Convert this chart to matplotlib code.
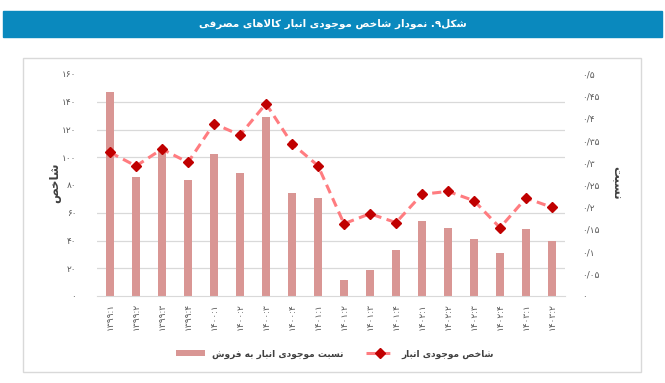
import numpy as np
import matplotlib
matplotlib.use("Agg")
import matplotlib.pyplot as plt
from matplotlib.patches import Rectangle

# ---- data ----
periods = ['۱۳۹۹:۱', '۱۳۹۹:۲', '۱۳۹۹:۳', '۱۳۹۹:۴',
           '۱۴۰۰:۱', '۱۴۰۰:۲', '۱۴۰۰:۳', '۱۴۰۰:۴',
           '۱۴۰۱:۱', '۱۴۰۱:۲', '۱۴۰۱:۳', '۱۴۰۱:۴',
           '۱۴۰۲:۱', '۱۴۰۲:۲', '۱۴۰۲:۳', '۱۴۰۲:۴',
           '۱۴۰۳:۱', '۱۴۰۳:۲']
stock_to_sales = [0.460, 0.267, 0.328, 0.261, 0.320, 0.278, 0.403, 0.232, 0.221,
                  0.036, 0.059, 0.104, 0.168, 0.153, 0.128, 0.097, 0.151, 0.125]
stock_index = [103.5, 93.7, 105.9, 96.3, 124.2, 116.0, 138.6, 109.8, 93.9,
               52.1, 59.3, 52.9, 73.3, 75.4, 68.7, 49.2, 70.6, 63.9]

index_ticks = [0, 20, 40, 60, 80, 100, 120, 140, 160]
index_labels = ['۰', '۲۰', '۴۰', '۶۰', '۸۰', '۱۰۰', '۱۲۰', '۱۴۰', '۱۶۰']
ratio_ticks = [0, 0.05, 0.1, 0.15, 0.2, 0.25, 0.3, 0.35, 0.4, 0.45, 0.5]
ratio_labels = ['۰', '۰/۰۵', '۰/۱', '۰/۱۵', '۰/۲', '۰/۲۵', '۰/۳', '۰/۳۵', '۰/۴', '۰/۴۵', '۰/۵']

title = 'شکل۹. نمودار شاخص موجودی انبار کالاهای مصرفی'
left_label = 'شاخص'
right_label = 'نسبت'
bar_name = 'نسبت موجودی انبار به فروش'
line_name = 'شاخص موجودی انبار'

# ---- minimal Persian shaping (matplotlib has no bidi / joining) ----
FORMS = {
    'ا': ('\uFE8D', '\uFE8E', None, None),
    'ب': ('\uFE8F', '\uFE90', '\uFE91', '\uFE92'),
    'ت': ('\uFE95', '\uFE96', '\uFE97', '\uFE98'),
    'ج': ('\uFE9D', '\uFE9E', '\uFE9F', '\uFEA0'),
    'خ': ('\uFEA5', '\uFEA6', '\uFEA7', '\uFEA8'),
    'د': ('\uFEA9', '\uFEAA', None, None),
    'ر': ('\uFEAD', '\uFEAE', None, None),
    'س': ('\uFEB1', '\uFEB2', '\uFEB3', '\uFEB4'),
    'ش': ('\uFEB5', '\uFEB6', '\uFEB7', '\uFEB8'),
    'ص': ('\uFEB9', '\uFEBA', '\uFEBB', '\uFEBC'),
    'ف': ('\uFED1', '\uFED2', '\uFED3', '\uFED4'),
    'ل': ('\uFEDD', '\uFEDE', '\uFEDF', '\uFEE0'),
    'م': ('\uFEE1', '\uFEE2', '\uFEE3', '\uFEE4'),
    'ن': ('\uFEE5', '\uFEE6', '\uFEE7', '\uFEE8'),
    'ه': ('\uFEE9', '\uFEEA', '\uFEEB', '\uFEEC'),
    'و': ('\uFEED', '\uFEEE', None, None),
    'ی': ('\uFBFC', '\uFBFD', '\uFBFE', '\uFBFF'),
    'ک': ('\uFB8E', '\uFB8F', '\uFB90', '\uFB91'),
    'LA': ('\uFEFB', '\uFEFC', None, None),
}
DIGITS = set('۰۱۲۳۴۵۶۷۸۹0123456789')


def fa(text):
    units, i = [], 0
    while i < len(text):
        if text[i] == 'ل' and text[i + 1:i + 2] == 'ا':
            units.append('LA')
            i += 2
        else:
            units.append(text[i])
            i += 1
    joins_next = lambda u: u in FORMS and FORMS[u][2] is not None
    shaped = []
    for k, u in enumerate(units):
        if u not in FORMS:
            shaped.append(u)
            continue
        p = k > 0 and joins_next(units[k - 1])
        n = joins_next(u) and k + 1 < len(units) and units[k + 1] in FORMS
        iso, fin, ini, med = FORMS[u]
        shaped.append(med if p and n else fin if p else ini if n else iso)
    # visual order: reverse, keeping digit runs left-to-right
    runs = []
    for ch in shaped:
        isd = ch in DIGITS
        if runs and runs[-1][0] == isd:
            runs[-1][1].append(ch)
        else:
            runs.append((isd, [ch]))
    out = ''
    for isd, chars in reversed(runs):
        out += ''.join(chars) if isd else ''.join(reversed(chars))
    return out


plt.rcParams['font.family'] = ['DejaVu Sans']
grey = '#595959'

fig = plt.figure(figsize=(6.65, 3.83), dpi=100)

# title banner and outer frame
fig.patches.append(Rectangle((3 / 665, 1 - 37 / 383), 659 / 665, 26 / 383,
                             transform=fig.transFigure, color='#0A89BE', zorder=0))
fig.text(0.5, 1 - 24 / 383, fa(title), color='white', fontsize=7.5,
         fontweight='bold', ha='center', va='center')
fig.patches.append(Rectangle((23 / 665, 1 - 372 / 383), 618 / 665, 314 / 383,
                             transform=fig.transFigure, fill=False,
                             edgecolor='#d9d9d9', lw=1, zorder=0))

ax = fig.add_axes([97 / 665, 1 - 296 / 383, 468 / 665, 222 / 383])
x = np.arange(len(periods))

# bars: stock-to-sales ratio (right axis)
bars = ax.bar(x, stock_to_sales, width=0.32, color='#D99694', zorder=2)
ax.set_ylim(0, 0.5)
ax.set_xlim(-0.5, len(periods) - 0.5)
ax.set_yticks(ratio_ticks)
ax.set_yticklabels(ratio_labels)
# gridlines follow the left (index) axis, drawn under the bars
ax.set_yticks(np.array(index_ticks) / 160 * 0.5, minor=True)
ax.grid(axis='y', which='minor', color='#d9d9d9', lw=0.9, zorder=0)
ax.set_axisbelow(True)
ax.set_xticks(x)
ax.set_xticklabels(periods, rotation=90, fontsize=6.5, color=grey)
ax.tick_params(axis='x', length=0, pad=5)
for s in ['top', 'left', 'right']:
    ax.spines[s].set_visible(False)
ax.spines['bottom'].set_color('#d9d9d9')

# line: stock index (left axis)
ax2 = ax.twinx()
line, = ax2.plot(x, stock_index, color='#FF7C80', lw=2.2, dashes=(3, 1.8),
                 marker='D', ms=5, mfc='#C00000', mec='#C00000', zorder=3)
ax2.set_ylim(0, 160)
ax2.set_yticks(index_ticks)
ax2.set_yticklabels(index_labels)
ax2.yaxis.tick_left()
ax2.tick_params(axis='y', length=0, pad=15, labelsize=6.5, labelcolor=grey)
for s in ax2.spines.values():
    s.set_visible(False)

# twinx moved the primary ticks to the left; put ratio ticks back on the right
ax.yaxis.tick_right()
ax.tick_params(axis='y', which='major', length=0, pad=12, labelsize=6.5,
               labelcolor=grey, labelleft=False, labelright=True)
ax.tick_params(axis='y', which='minor', length=0, labelleft=False, labelright=False)

fig.text(55 / 665, 1 - 183 / 383, fa(left_label), rotation=90, fontsize=8.5,
         fontweight='bold', color='#404040', ha='center', va='center')
fig.text(617 / 665, 1 - 183 / 383, fa(right_label), rotation=270, fontsize=8.5,
         fontweight='bold', color='#404040', ha='center', va='center')

leg = fig.legend([bars, line], [fa(bar_name), fa(line_name)], ncol=2,
                 loc='center', bbox_to_anchor=(0.504, 1 - 354 / 383),
                 frameon=False, handlelength=3.2, columnspacing=2.4,
                 prop={'size': 6.5, 'weight': 'bold'})
for t in leg.get_texts():
    t.set_color('#404040')

fig.savefig('out.png', dpi=100)
